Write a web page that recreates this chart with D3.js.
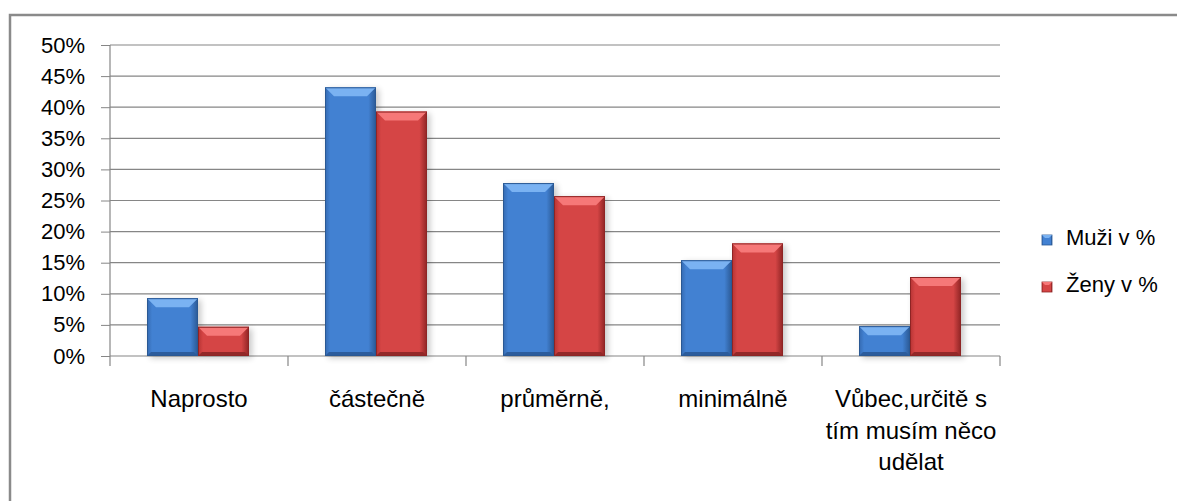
<!DOCTYPE html>
<html>
<head>
<meta charset="utf-8">
<script src="https://cdn.jsdelivr.net/npm/d3@7"></script>
<style>
  body { margin: 0; background: #fff; }
  text { font-family: "Liberation Sans", Arial, sans-serif; fill: #000; }
</style>
</head>
<body>
<div id="chart"></div>
<script>
// data
const categories = ["Naprosto", "částečně", "průměrně,", "minimálně", "Vůbec,určitě s tím musím něco udělat"];
const categoryLines = [["Naprosto"], ["částečně"], ["průměrně,"], ["minimálně"], ["Vůbec,určitě s", "tím musím něco", "udělat"]];
const series = ["Muži v %", "Ženy v %"];
const muzi = [9.3, 43.2, 27.8, 15.4, 4.8];
const zeny = [4.7, 39.3, 25.7, 18.1, 12.7];
const yTicks = [0, 5, 10, 15, 20, 25, 30, 35, 40, 45, 50];

const W = 1177, H = 501;
const margin = { top: 45, right: 177, bottom: 145, left: 110 };

const svg = d3.select("#chart").append("svg")
  .attr("width", W)
  .attr("height", H);

// outer frame (runs off right and bottom)
svg.append("rect")
  .attr("x", 10).attr("y", 15)
  .attr("width", W + 20).attr("height", H + 20)
  .attr("fill", "none")
  .attr("stroke", "#8a8a8a")
  .attr("stroke-width", 2.5);

const defs = svg.append("defs");
const colors = {
  "Muži v %": { body: "#4281d2", left: "#3469b0", right: "#2a5893", top: "#7ab2f2", bottom: "#2c5c9c" },
  "Ženy v %": { body: "#d54545", left: "#b53333", right: "#8e2424", top: "#f67878", bottom: "#922828" }
};
series.forEach((s, i) => {
  const c = colors[s];
  const g = defs.append("linearGradient").attr("id", "grad" + i)
    .attr("x1", "0").attr("x2", "1").attr("y1", "0").attr("y2", "0");
  g.append("stop").attr("offset", "0").attr("stop-color", c.left);
  g.append("stop").attr("offset", "0.1").attr("stop-color", c.body);
  g.append("stop").attr("offset", "0.85").attr("stop-color", c.body);
  g.append("stop").attr("offset", "1").attr("stop-color", c.right);
});
const blur = defs.append("filter").attr("id", "shadow")
  .attr("x", "-20%").attr("y", "-20%").attr("width", "150%").attr("height", "150%");
blur.append("feGaussianBlur").attr("stdDeviation", 3);

const x0 = d3.scaleBand()
  .domain(categories)
  .range([margin.left, W - margin.right])
  .paddingInner(0).paddingOuter(0);

const x1 = d3.scaleBand()
  .domain(series)
  .range([37, 139]);

const y = d3.scaleLinear()
  .domain([0, 50])
  .range([H - margin.bottom, margin.top]);

// gridlines + y axis
const yAxis = svg.append("g")
  .attr("transform", `translate(${margin.left},0)`)
  .call(d3.axisLeft(y).tickValues(yTicks).tickSize(9).tickPadding(16).tickFormat(d => d + "%"));
yAxis.select(".domain").remove();
yAxis.selectAll(".tick line").attr("stroke", "#868686");
yAxis.selectAll(".tick text").attr("font-size", 22).attr("fill", "#000");

svg.append("g").selectAll("line")
  .data(yTicks.filter(d => d > 0))
  .join("line")
  .attr("x1", margin.left).attr("x2", W - margin.right)
  .attr("y1", d => y(d)).attr("y2", d => y(d))
  .attr("stroke", "#868686").attr("stroke-width", 1.2);

svg.append("line")
  .attr("x1", margin.left).attr("x2", margin.left)
  .attr("y1", y(50)).attr("y2", y(0) + 10)
  .attr("stroke", "#868686").attr("stroke-width", 1.2);

// x axis
const xAxis = svg.append("g")
  .attr("transform", `translate(0,${y(0)})`);
xAxis.append("line")
  .attr("x1", margin.left).attr("x2", W - margin.right)
  .attr("stroke", "#868686").attr("stroke-width", 1.2);
xAxis.selectAll(".sep")
  .data(categories)
  .join("line")
  .attr("class", "sep")
  .attr("x1", d => x0(d) + x0.bandwidth()).attr("x2", d => x0(d) + x0.bandwidth())
  .attr("y1", 0).attr("y2", 10)
  .attr("stroke", "#868686").attr("stroke-width", 1.2);

const labels = svg.append("g").selectAll("text")
  .data(categories)
  .join("text")
  .attr("text-anchor", "middle")
  .attr("font-size", 24)
  .attr("x", d => x0(d) + x0.bandwidth() / 2)
  .attr("y", y(0) + 51);
labels.each(function(d, i) {
  d3.select(this).selectAll("tspan")
    .data(categoryLines[i])
    .join("tspan")
    .attr("x", x0(d) + x0.bandwidth() / 2)
    .attr("dy", (t, j) => j === 0 ? 0 : 31.5)
    .text(t => t);
});

// bars
const rows = categories.map((c, i) => ({ cat: c, vals: [muzi[i], zeny[i]] }));
const bars = [];
rows.forEach(r => r.vals.forEach((v, k) => bars.push({ cat: r.cat, s: series[k], k: k, v: v })));

const barG = svg.append("g");
// soft shadow
barG.selectAll(".shadow")
  .data(bars)
  .join("rect")
  .attr("class", "shadow")
  .attr("x", d => x0(d.cat) + x1(d.s) + 3)
  .attr("y", d => y(d.v) + 2)
  .attr("width", x1.bandwidth())
  .attr("height", d => y(0) - y(d.v))
  .attr("fill", "#000").attr("opacity", 0.22)
  .attr("filter", "url(#shadow)");

const bar = barG.selectAll(".bar")
  .data(bars)
  .join("g")
  .attr("class", "bar");

bar.append("rect")
  .attr("x", d => x0(d.cat) + x1(d.s))
  .attr("y", d => y(d.v))
  .attr("width", x1.bandwidth())
  .attr("height", d => y(0) - y(d.v))
  .attr("fill", d => `url(#grad${d.k})`);

const bev = 9;
// top bevel
bar.append("path")
  .attr("d", d => {
    const xl = x0(d.cat) + x1(d.s), xr = xl + x1.bandwidth(), yt = y(d.v);
    const b = Math.min(bev, (y(0) - yt) / 3);
    return `M${xl},${yt}L${xr},${yt}L${xr - b},${yt + b}L${xl + b},${yt + b}Z`;
  })
  .attr("fill", d => colors[d.s].top);
// bottom bevel
bar.append("path")
  .attr("d", d => {
    const xl = x0(d.cat) + x1(d.s), xr = xl + x1.bandwidth(), yb = y(0);
    const b = Math.min(4, (yb - y(d.v)) / 4);
    return `M${xl},${yb}L${xr},${yb}L${xr - b},${yb - b}L${xl + b},${yb - b}Z`;
  })
  .attr("fill", d => colors[d.s].bottom);
// outline
bar.append("rect")
  .attr("x", d => x0(d.cat) + x1(d.s) + 0.5)
  .attr("y", d => y(d.v) + 0.5)
  .attr("width", x1.bandwidth() - 1)
  .attr("height", d => y(0) - y(d.v) - 1)
  .attr("fill", "none")
  .attr("stroke", d => colors[d.s].right)
  .attr("stroke-width", 1);

// legend
const legend = svg.append("g").selectAll("g")
  .data(series)
  .join("g")
  .attr("transform", (d, i) => `translate(1042,${235 + i * 47})`);
legend.append("rect")
  .attr("width", 10).attr("height", 10)
  .attr("fill", (d, i) => `url(#grad${i})`)
  .attr("stroke", d => colors[d].right).attr("stroke-width", 0.8);
legend.append("path")
  .attr("d", "M0,0L10,0L7,3L3,3Z")
  .attr("fill", d => colors[d].top);
legend.append("text")
  .attr("x", 24).attr("y", 10)
  .attr("font-size", 22)
  .text(d => d);
</script>
</body>
</html>
